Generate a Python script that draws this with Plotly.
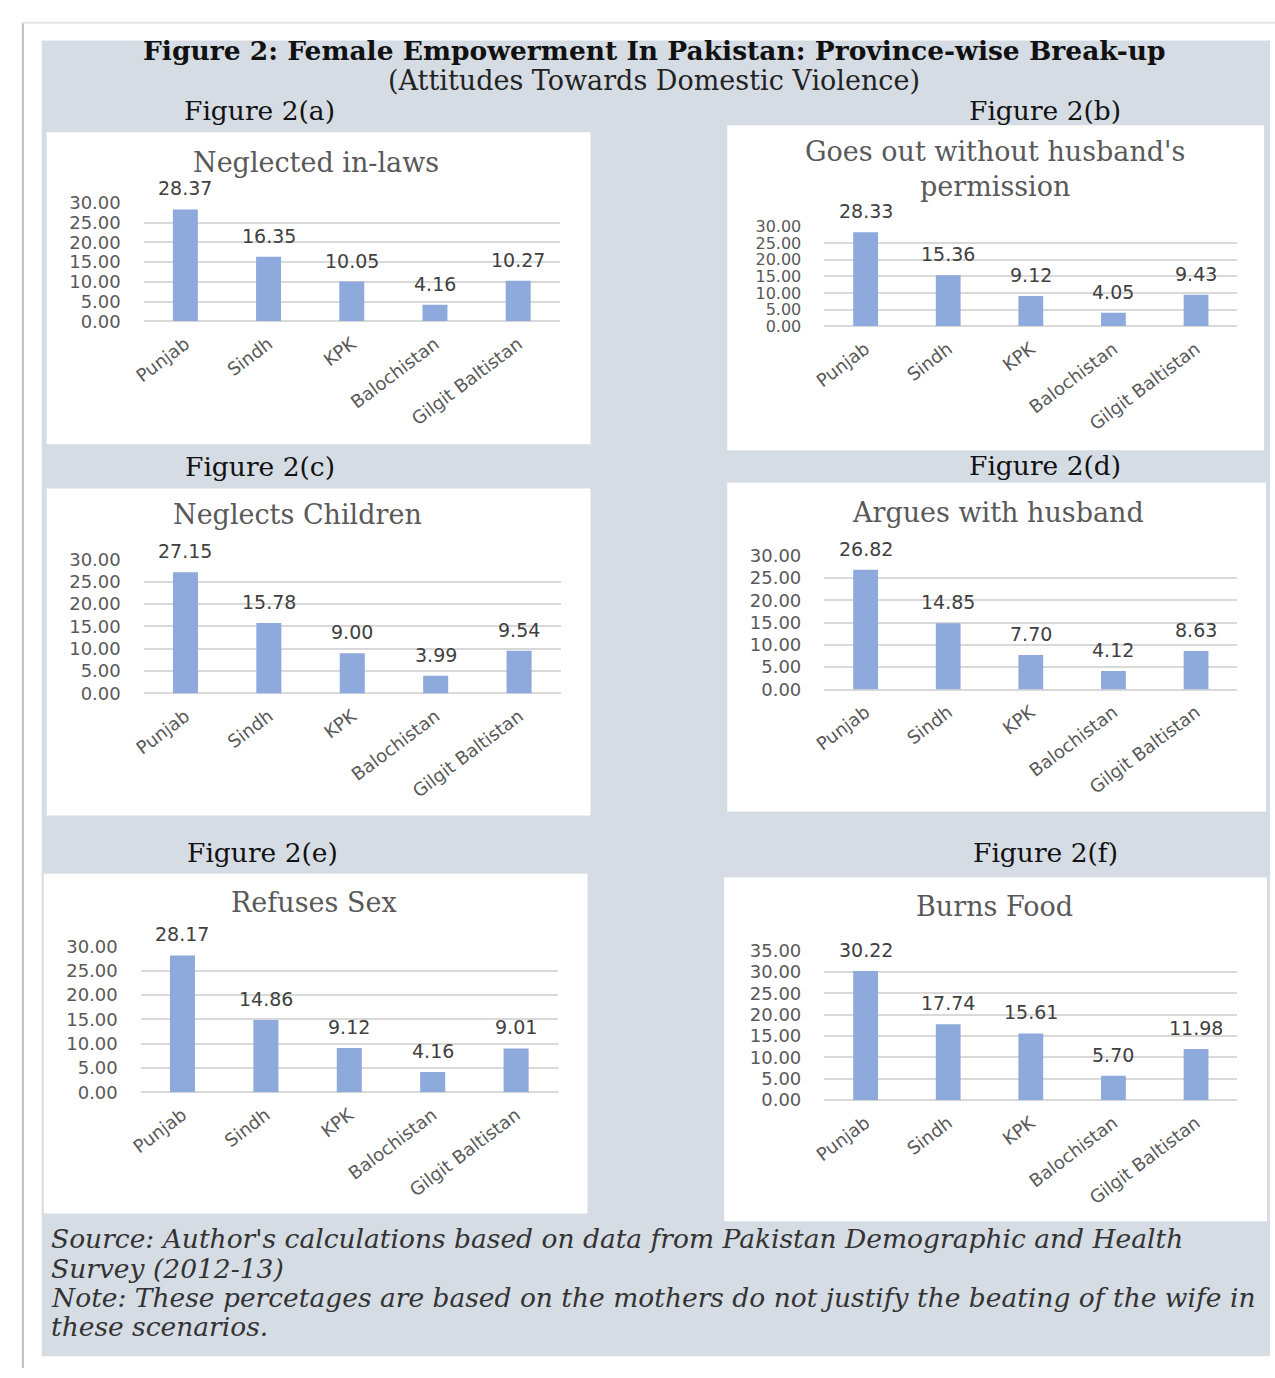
import plotly.graph_objects as go

# Provinces and percentage of mothers who do not justify wife-beating, per scenario
provinces = ["Punjab", "Sindh", "KPK", "Balochistan", "Gilgit Baltistan"]

neglected_in_laws = [28.37, 16.35, 10.05, 4.16, 10.27]
goes_out_without_permission = [28.33, 15.36, 9.12, 4.05, 9.43]
neglects_children = [27.15, 15.78, 9.00, 3.99, 9.54]
argues_with_husband = [26.82, 14.85, 7.70, 4.12, 8.63]
refuses_sex = [28.17, 14.86, 9.12, 4.16, 9.01]
burns_food = [30.22, 17.74, 15.61, 5.70, 11.98]

panel_titles = [
    "Neglected in-laws",
    "Goes out without husband's<br>permission",
    "Neglects Children",
    "Argues with husband",
    "Refuses Sex",
    "Burns Food",
]
figure_labels = ["Figure 2(a)", "Figure 2(b)", "Figure 2(c)",
                 "Figure 2(d)", "Figure 2(e)", "Figure 2(f)"]
y_max = [30, 30, 30, 30, 30, 35]

series = [neglected_in_laws, goes_out_without_permission, neglects_children,
          argues_with_husband, refuses_sex, burns_food]

footnote_lines = [
    "Source: Author's calculations based on data from Pakistan Demographic and Health",
    "Survey (2012-13)",
    "Note: These percetages are based on the mothers do not justify the beating of the wife in",
    "these scenarios.",
]

W, H = 1275, 1378
BAR = "#8EA9DB"
GRID = "#D9D9D9"
TXT = "#595959"
SERIF = "DejaVu Serif, Liberation Serif, serif"
SANS = "DejaVu Sans, Verdana, sans-serif"

# Layout boxes in pixels: white card, plot area, title centre, caption centre, y tick size
panels = [
    dict(card=(35, 123, 584, 440), plot=(133, 195, 553, 315), title=(307, 154), cap=(250, 101), ytf=18),
    dict(card=(722, 116, 1264, 446), plot=(820, 219, 1237, 320), title=(992, 160), cap=(1043, 101), ytf=16),
    dict(card=(35, 485, 584, 817), plot=(133, 557, 554, 693), title=(288, 511), cap=(250, 463), ytf=18),
    dict(card=(722, 479, 1266, 813), plot=(820, 553, 1237, 689), title=(995, 509), cap=(1043, 462), ytf=18),
    dict(card=(32, 876, 581, 1221), plot=(130, 950, 551, 1098), title=(305, 905), cap=(253, 855), ytf=18),
    dict(card=(719, 880, 1267, 1229), plot=(820, 954, 1237, 1106), title=(992, 909), cap=(1043, 855), ytf=18),
]


def px(x):
    return x / W


def py(y):
    return 1 - y / H


fig = go.Figure()
shapes = [
    # page frame
    dict(type="line", xref="paper", yref="paper", x0=px(11), x1=px(11), y0=py(12), y1=0,
         line=dict(color="#BFBFBF", width=2), layer="below"),
    dict(type="line", xref="paper", yref="paper", x0=px(11), x1=1, y0=py(12), y1=py(12),
         line=dict(color="#E6E6E6", width=2), layer="below"),
    # shaded figure block
    dict(type="rect", xref="paper", yref="paper", x0=px(30), x1=px(1270), y0=py(1366), y1=py(30),
         fillcolor="#D6DCE4", line=dict(width=0), layer="below"),
]
annotations = [
    dict(text="<b>Figure 2: Female Empowerment In Pakistan: Province-wise Break-up</b>",
         x=px(648), y=py(40), xref="paper", yref="paper", showarrow=False,
         xanchor="center", yanchor="middle", font=dict(family=SERIF, size=26.5, color="#111111")),
    dict(text="(Attitudes Towards Domestic Violence)",
         x=px(648), y=py(71), xref="paper", yref="paper", showarrow=False,
         xanchor="center", yanchor="middle", font=dict(family=SERIF, size=27, color="#222222")),
]
for k, line in enumerate(footnote_lines):
    annotations.append(dict(text=f"<i>{line}</i>", x=px(37), y=py(1247 + 29.7 * k),
                            xref="paper", yref="paper", showarrow=False,
                            xanchor="left", yanchor="middle",
                            font=dict(family=SERIF, size=26.5, color="#333333")))

for i, (p, vals) in enumerate(zip(panels, series)):
    n = "" if i == 0 else str(i + 1)
    cx0, cy0, cx1, cy1 = p["card"]
    shapes.append(dict(type="rect", xref="paper", yref="paper",
                       x0=px(cx0), x1=px(cx1), y0=py(cy1), y1=py(cy0),
                       fillcolor="white", line=dict(width=0), layer="below"))
    x0, y0, x1, y1 = p["plot"]
    fig.add_trace(go.Bar(x=provinces, y=vals, marker=dict(color=BAR, line=dict(width=0)),
                         xaxis="x" + n, yaxis="y" + n, showlegend=False, hoverinfo="x+y"))
    fig.layout["xaxis" + n] = dict(
        domain=[px(x0), px(x1)], anchor="y" + n, type="category",
        tickangle=-37, tickfont=dict(family=SANS, size=18, color=TXT),
        showgrid=False, showline=False, ticks="", ticklabelstandoff=8, fixedrange=True)
    fig.layout["yaxis" + n] = dict(
        domain=[py(y1), py(y0)], anchor="x" + n, range=[0, y_max[i]], dtick=5,
        tickformat=".2f", tickfont=dict(family=SANS, size=p["ytf"], color=TXT),
        showgrid=True, gridcolor=GRID, gridwidth=1.5, zeroline=True, zerolinecolor=GRID,
        zerolinewidth=1.5, showline=False, ticks="", ticklabelstandoff=22, fixedrange=True)
    for cat, v in zip(provinces, vals):
        annotations.append(dict(text=f"{v:.2f}", x=cat, y=v, xref="x" + n, yref="y" + n,
                                showarrow=False, yshift=21, xanchor="center", yanchor="middle",
                                font=dict(family=SANS, size=19, color="#404040")))
    tx, ty = p["title"]
    annotations.append(dict(text=panel_titles[i], x=px(tx), y=py(ty), xref="paper", yref="paper",
                            showarrow=False, xanchor="center", yanchor="middle",
                            font=dict(family=SERIF, size=27, color=TXT)))
    fx, fy = p["cap"]
    annotations.append(dict(text=figure_labels[i], x=px(fx), y=py(fy), xref="paper", yref="paper",
                            showarrow=False, xanchor="center", yanchor="middle",
                            font=dict(family=SERIF, size=26.5, color="#111111")))

fig.update_layout(
    width=W, height=H, autosize=False,
    margin=dict(l=0, r=0, t=0, b=0),
    paper_bgcolor="white", plot_bgcolor="rgba(0,0,0,0)",
    bargap=0.7, shapes=shapes, annotations=annotations,
)

fig.write_html("out.html", config={"displayModeBar": False},
               post_script="document.body.style.margin='0';document.body.style.padding='0';")
